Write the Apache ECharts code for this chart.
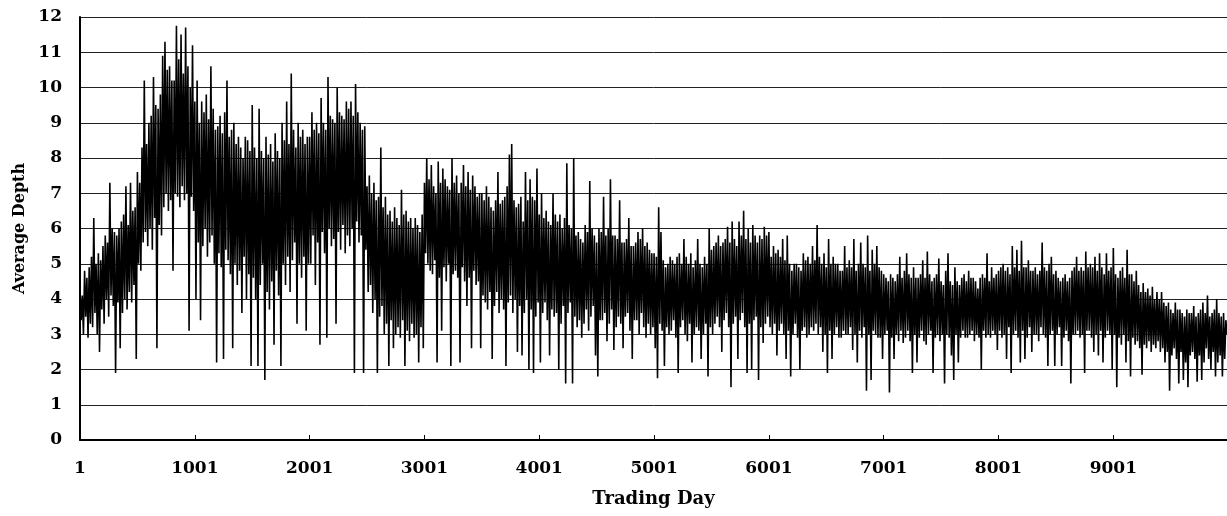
<!DOCTYPE html>
<html><head><meta charset="utf-8">
<script src="https://cdn.jsdelivr.net/npm/echarts@6/dist/echarts.min.js"></script>
<style>html,body{margin:0;padding:0;background:#fff}#c{width:1227px;height:516px}</style>
</head><body><div id="c"></div>
<script>
// Average depth.
// depthUp: local highs on days 1, 21, 41, ...; depthDown: local lows on days 11, 31, 51, ...
const dayStep = 20;
const depthUp = [
4.3,4.1,4.8,4.6,4.9,5.2,6.3,5.0,5.3,5.1,5.5,5.8,5.6,7.3,6.0,5.9,5.8,6.0,6.2,6.4,7.2,6.1,7.3,6.5,6.6,
7.6,7.3,8.3,10.2,8.4,9.0,9.2,10.3,9.5,9.4,9.8,10.9,11.3,10.5,10.6,10.2,10.2,11.75,10.8,11.5,10.4,11.7,10.6,10.0,11.2,
9.6,10.2,9.0,9.6,9.3,9.8,9.1,10.6,9.4,8.8,8.9,9.2,8.7,9.3,10.2,8.6,8.8,9.0,8.4,8.6,8.3,8.0,8.6,8.5,8.2,
9.5,8.3,8.0,9.4,8.2,8.0,8.6,8.1,8.4,7.9,8.7,8.2,8.0,9.0,8.5,9.6,8.4,10.4,8.8,8.3,9.0,8.6,8.8,8.4,8.6,
8.6,9.3,8.8,9.0,8.7,9.7,9.0,8.8,10.3,9.2,9.1,9.0,10.0,9.3,9.2,9.1,9.6,9.4,9.6,9.2,10.1,9.3,9.0,8.8,8.9,
7.2,7.5,7.0,7.3,6.8,6.9,8.3,6.6,6.9,6.4,6.5,6.2,6.6,6.3,6.1,7.1,6.4,6.5,6.2,6.3,6.0,6.3,6.1,5.9,6.4,
7.3,8.0,7.4,7.8,7.2,7.0,7.9,7.3,7.7,7.4,7.2,7.1,8.0,7.3,7.5,7.0,7.3,7.8,7.2,7.6,7.1,7.5,7.2,6.9,7.0,
7.0,6.8,7.2,6.9,6.6,6.5,6.8,7.6,6.7,6.8,6.9,7.2,8.1,8.4,6.8,6.6,6.7,6.9,6.2,7.6,6.8,7.4,6.9,6.8,7.7,
6.4,7.0,6.3,6.5,6.2,6.1,7.0,6.4,6.2,6.4,6.0,6.3,7.85,6.1,6.0,8.0,5.8,5.9,5.7,5.6,6.1,5.9,7.35,6.0,5.8,
5.6,6.0,5.9,6.9,5.8,6.0,7.4,5.8,5.8,5.7,6.8,5.6,5.6,5.7,6.3,5.5,5.5,5.6,5.9,5.7,6.0,5.5,5.6,5.4,5.3,
5.3,5.2,6.6,5.9,5.1,4.9,5.0,5.2,5.1,5.0,5.2,5.3,5.0,5.7,5.2,5.0,5.3,4.9,5.1,5.7,5.0,4.9,5.2,5.0,6.0,
5.4,5.5,5.6,5.8,5.5,5.6,5.7,6.05,5.6,6.2,5.7,5.5,6.2,5.8,6.5,5.7,6.0,5.6,6.1,5.8,5.6,5.8,5.7,6.05,5.8,
5.9,5.2,5.5,5.3,5.4,5.2,5.7,5.1,5.8,5.0,4.8,5.0,5.0,4.9,4.8,5.3,5.1,5.2,5.0,5.5,5.1,6.1,5.2,5.0,5.3,
4.9,5.7,5.0,5.2,5.0,5.0,4.8,4.8,5.5,4.9,5.1,4.9,5.7,4.8,5.0,5.6,5.0,4.9,5.8,4.8,5.4,5.0,5.5,4.9,4.8,
4.7,4.6,4.5,4.7,4.6,4.5,4.7,5.2,4.6,4.8,5.3,4.7,4.6,4.9,4.6,4.6,4.7,5.1,4.6,5.35,4.7,4.5,4.6,4.7,5.15,
4.5,4.4,4.8,5.3,4.5,4.4,4.9,4.5,4.4,4.6,4.7,4.5,4.8,4.6,4.6,4.5,4.3,4.6,4.7,4.6,5.3,4.5,4.9,4.6,4.7,
4.8,4.9,5.0,4.8,4.9,4.7,5.5,4.9,5.4,4.8,5.65,4.9,4.9,5.1,4.8,4.8,4.9,4.7,4.8,5.6,4.9,4.8,5.0,5.2,4.7,
4.8,4.6,4.5,4.6,4.7,4.5,4.6,4.8,4.9,5.2,4.8,4.9,4.8,5.35,4.9,5.0,4.9,5.2,4.8,5.3,4.9,4.7,5.3,4.8,4.9,
5.45,4.7,4.6,4.8,4.9,4.6,5.4,4.7,4.7,4.5,4.8,4.4,4.2,4.45,4.2,4.3,4.1,4.35,4.0,4.2,4.0,4.2,3.9,3.8,3.9,
3.7,3.6,3.9,3.7,3.7,3.6,3.5,3.7,3.6,3.6,3.8,3.5,3.6,3.7,3.9,3.6,4.1,3.5,3.6,3.7,4.0,3.6,3.5,3.6,3.4
];
const depthDown = [
3.4,3.0,3.5,2.9,3.3,3.2,3.6,3.0,2.5,3.7,3.3,4.0,3.5,4.1,3.8,1.9,3.9,2.6,3.6,4.0,3.7,4.2,3.9,4.4,2.3,
5.0,4.8,5.6,5.9,5.5,6.0,5.4,6.3,2.6,6.1,5.8,6.6,7.0,6.5,6.8,4.8,7.0,6.9,6.6,7.2,6.8,7.0,3.1,6.9,6.5,
4.0,5.6,3.4,5.5,6.0,5.2,5.6,5.8,5.0,2.2,5.3,4.9,2.3,5.4,5.1,4.7,2.6,5.0,4.4,4.8,3.6,5.2,4.0,4.7,2.1,
4.6,4.0,2.1,4.4,5.0,1.7,4.2,3.7,4.5,2.7,4.8,4.1,2.1,5.0,4.4,5.2,4.2,5.1,5.6,3.3,5.0,4.6,5.2,3.1,5.0,
5.0,5.8,4.4,5.6,2.7,5.9,5.3,2.9,6.0,5.5,5.7,3.3,5.9,5.4,6.1,5.3,5.8,5.5,6.0,1.9,6.2,5.6,5.8,1.9,5.4,
4.2,4.4,3.6,4.0,1.9,3.5,3.8,3.0,3.3,2.1,3.4,2.6,3.0,3.2,2.9,3.4,2.1,3.1,2.8,3.3,2.9,3.0,2.2,3.2,2.6,
5.3,5.0,4.8,4.7,5.1,2.2,4.6,3.1,4.9,4.5,5.0,2.1,4.7,4.8,4.6,2.2,4.9,4.5,3.8,4.6,2.6,4.8,4.4,4.5,2.6,
4.1,3.9,3.7,4.2,2.3,3.8,4.2,3.6,4.0,3.7,2.1,3.9,4.1,3.6,4.0,2.5,3.8,2.4,3.6,4.0,2.0,3.7,1.9,3.5,3.9,
2.2,3.6,3.9,3.4,2.4,3.7,3.5,3.6,2.0,3.3,3.8,1.6,3.6,3.9,1.6,3.5,3.2,3.4,2.9,3.3,3.7,3.1,3.5,3.8,2.4,
1.8,3.4,3.4,3.6,2.8,3.3,3.7,2.55,3.2,3.5,3.3,2.6,3.5,3.6,3.1,2.3,3.4,3.4,3.0,3.6,3.2,2.9,3.3,3.0,3.2,
2.6,1.75,3.3,3.1,2.1,3.2,3.0,3.1,3.4,2.9,1.9,3.2,3.4,3.0,2.8,3.3,2.2,3.0,3.2,3.1,2.3,3.0,3.3,1.8,3.2,
3.0,3.3,3.5,3.2,2.5,3.4,3.6,3.2,1.5,3.3,3.5,2.3,3.4,3.6,3.2,1.9,3.3,2.0,3.4,3.5,1.7,3.2,2.75,3.3,3.5,
3.2,3.0,3.3,2.4,3.1,3.3,3.0,2.3,3.1,1.8,3.0,3.3,2.9,2.0,3.1,3.2,2.9,3.0,3.2,3.1,3.3,3.0,3.2,2.5,3.0,
1.9,3.1,2.3,3.0,3.2,2.9,2.9,3.1,3.0,3.0,3.2,2.55,3.0,2.2,3.1,2.9,3.2,1.4,3.0,1.7,3.1,3.0,2.9,2.9,2.3,
3.0,3.1,1.35,2.9,2.3,3.0,2.8,3.1,2.75,2.9,3.1,2.8,1.9,3.0,2.2,2.9,3.1,2.8,2.7,3.0,3.1,1.9,2.9,3.0,2.8,
3.0,1.6,3.0,2.9,2.4,1.7,3.0,2.2,2.9,3.1,2.9,2.9,3.0,3.1,2.8,3.0,2.9,2.0,3.1,2.9,3.0,2.9,3.1,3.0,2.55,
3.1,2.9,3.0,2.3,3.2,1.9,3.0,3.1,2.9,2.2,3.1,2.3,2.9,3.2,2.5,3.0,3.0,2.8,3.2,3.0,2.9,2.1,3.0,3.1,2.1,
3.0,3.2,2.1,2.9,3.1,2.8,1.6,3.0,3.0,3.1,2.9,3.0,1.9,3.1,3.1,2.9,2.5,3.0,2.4,3.1,2.2,2.9,3.1,3.0,2.0,
3.0,1.5,2.9,2.7,3.0,2.2,2.8,1.8,2.9,2.7,2.8,2.6,1.85,2.7,2.6,2.8,2.5,2.7,2.6,2.8,2.5,2.6,2.2,2.5,1.4,
2.4,2.6,2.3,1.6,2.5,1.7,2.2,1.5,2.4,2.5,2.3,1.65,2.4,1.7,2.2,2.6,2.3,2.0,2.5,1.8,2.2,2.4,1.8,2.3,3.0
];
const tickLabels = ['1','1001','2001','3001','4001','5001','6001','7001','8001','9001'];
const yTicks = [0,1,2,3,4,5,6,7,8,9,10,11,12];

// x = days since day 1
const seriesData = [];
depthUp.forEach((v, i) => {
  seriesData.push([i * dayStep, v]);
  seriesData.push([i * dayStep + dayStep / 2, depthDown[i]]);
});
const xMax = seriesData[seriesData.length - 1][0];

const font = 'DejaVu Serif';
const chart = echarts.init(document.getElementById('c'), null, {renderer: 'canvas'});
chart.setOption({
  animation: false,
  backgroundColor: '#fff',
  grid: {left: 80, right: 0, top: 17, bottom: 76, containLabel: false},
  xAxis: {
    type: 'value', min: 0, max: xMax, interval: 1000,
    name: 'Trading Day', nameLocation: 'middle', nameGap: 50,
    nameTextStyle: {fontFamily: font, fontWeight: 'bold', fontSize: 18, color: '#000'},
    axisLine: {show: true, lineStyle: {color: '#000', width: 2}},
    axisTick: {show: true, inside: true, length: 5, lineStyle: {color: '#000', width: 1}},
    axisLabel: {
      margin: 20, fontFamily: font, fontWeight: 'bold', fontSize: 17, color: '#000',
      showMaxLabel: false,
      formatter: v => (v % 1000 === 0 && tickLabels[v / 1000] !== undefined) ? tickLabels[v / 1000] : ''
    },
    splitLine: {show: false}
  },
  yAxis: {
    type: 'value', min: yTicks[0], max: yTicks[yTicks.length - 1], interval: 1,
    name: 'Average Depth', nameLocation: 'middle', nameGap: 46, nameRotate: 90,
    nameTextStyle: {fontFamily: font, fontWeight: 'bold', fontSize: 16, color: '#000'},
    axisLine: {show: true, lineStyle: {color: '#000', width: 2}},
    axisTick: {show: false},
    axisLabel: {margin: 18, fontFamily: font, fontWeight: 'bold', fontSize: 17, color: '#000'},
    splitLine: {show: true, lineStyle: {color: '#222', width: 1}}
  },
  series: [{
    type: 'line', data: seriesData, symbol: 'none', showSymbol: false,
    lineStyle: {color: '#000', width: 1.6}, sampling: null, z: 3
  }]
});
</script></body></html>
